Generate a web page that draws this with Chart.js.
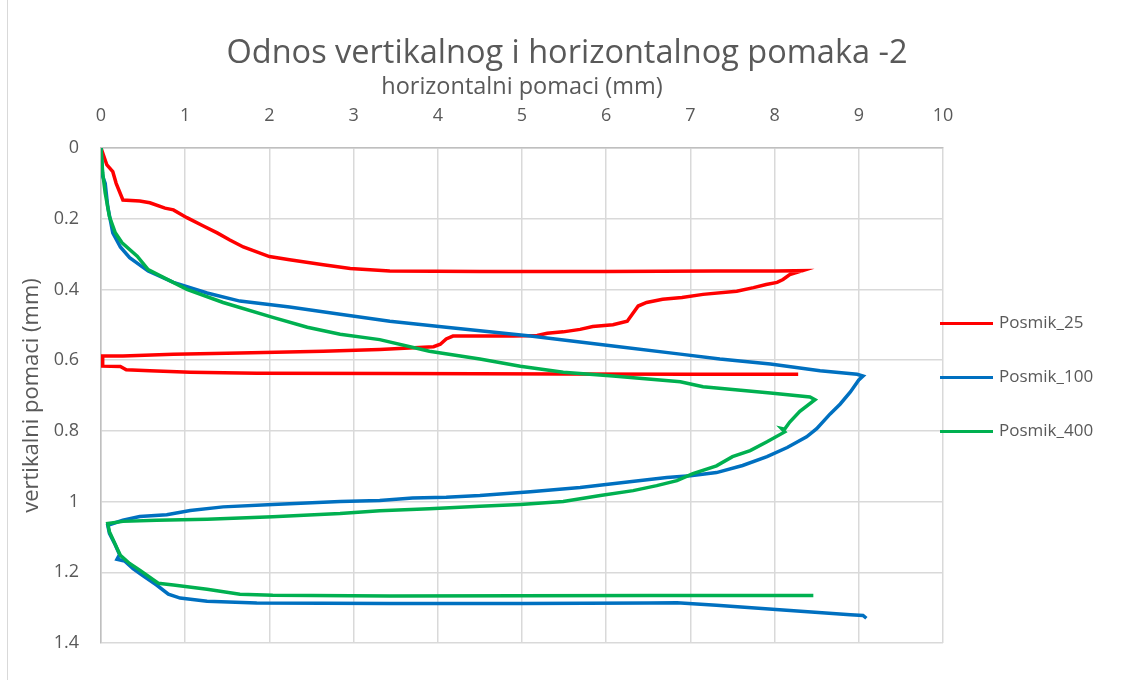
<!DOCTYPE html>
<html>
<head>
<meta charset="utf-8">
<script src="https://cdn.jsdelivr.net/npm/chart.js@4"></script>
<style>
  body { margin: 0; background: #fff; }
  #wrap { position: relative; width: 1124px; height: 680px; }
  #okvir { position: absolute; left: 7px; top: 0; width: 1px; height: 680px; background: #d9d9d9; pointer-events: none; }
  #naslov { position: absolute; left: 0; width: 1134px; top: 28px; line-height: 40px; text-align: center; font: 32.5px "Open Sans", sans-serif; color: #595959; }
  .leg { position: absolute; left: 940px; font: 17px "Open Sans", sans-serif; color: #595959; }
  .leg span { display: inline-block; width: 53px; height: 3px; vertical-align: middle; margin-right: 6px; }
</style>
</head>
<body>
<div id="wrap">
  <canvas id="grafik" width="1124" height="680"></canvas>
  <div id="okvir"></div>
  <div id="naslov">Odnos vertikalnog i horizontalnog pomaka -2</div>
  <div class="leg" style="top:310px"><span style="background:#ff0000"></span>Posmik_25</div>
  <div class="leg" style="top:364px"><span style="background:#0070c0"></span>Posmik_100</div>
  <div class="leg" style="top:418px"><span style="background:#00b050"></span>Posmik_400</div>
</div>
<script>
// horizontalni (x) i vertikalni (y) pomaci u mm
const posmik25X = [0, 0.07, 0.14, 0.18, 0.26, 0.46, 0.58, 0.76, 0.86, 1.02, 1.21, 1.38, 1.53, 1.69, 2.0, 2.24, 2.64, 2.96, 3.43, 4.5,
  6.0, 7.3, 8.0, 8.33, 8.18, 8.1, 8.03, 7.9, 7.75, 7.55, 7.15, 6.9, 6.67, 6.48, 6.38, 6.25, 6.08, 5.84, 5.69, 5.49,
  5.3, 5.18, 4.9, 4.18, 4.1, 4.03, 3.95, 3.31, 2.64, 1.65, 0.86, 0.26, 0.02, 0.02, 0.23, 0.3, 0.58, 1.06, 1.85, 3.43,
  5.5, 7.0, 8.28];
const posmik25Y = [0, 0.048, 0.067, 0.1, 0.147, 0.15, 0.155, 0.17, 0.175, 0.197, 0.22, 0.24, 0.26, 0.28, 0.307, 0.316, 0.33, 0.341, 0.348, 0.349,
  0.349, 0.348, 0.348, 0.347, 0.358, 0.372, 0.38, 0.386, 0.395, 0.405, 0.414, 0.423, 0.428, 0.437, 0.447, 0.49, 0.5, 0.505, 0.513, 0.52,
  0.524, 0.53, 0.532, 0.532, 0.54, 0.555, 0.562, 0.57, 0.575, 0.58, 0.583, 0.588, 0.588, 0.617, 0.618, 0.627, 0.63, 0.634, 0.637, 0.638,
  0.639, 0.64, 0.64];

const posmik100X = [0, 0.02, 0.05, 0.08, 0.14, 0.23, 0.34, 0.56, 0.86, 1.26, 1.65, 2.24, 2.84, 3.43, 4.1, 5.1, 6.08, 6.88, 7.35, 7.95,
  8.54, 8.98, 9.05, 9.0, 8.9, 8.78, 8.66, 8.5, 8.38, 8.15, 7.91, 7.62, 7.31, 7.0, 6.72, 6.28, 5.69, 5.1, 4.5, 4.1,
  3.7, 3.31, 2.84, 2.04, 1.45, 1.06, 0.78, 0.46, 0.26, 0.08, 0.1, 0.17, 0.22, 0.19, 0.28, 0.38, 0.5, 0.66, 0.8, 0.94,
  1.26, 1.85, 3.43, 5.0, 6.52, 6.84, 7.31, 8.1, 8.9, 9.05, 9.09];
const posmik100Y = [0, 0.08, 0.1, 0.166, 0.24, 0.28, 0.31, 0.348, 0.38, 0.41, 0.433, 0.45, 0.47, 0.49, 0.507, 0.532, 0.56, 0.583, 0.597, 0.611,
  0.63, 0.64, 0.645, 0.656, 0.69, 0.724, 0.752, 0.794, 0.817, 0.847, 0.873, 0.898, 0.918, 0.927, 0.932, 0.944, 0.96, 0.972, 0.983, 0.988,
  0.99, 0.997, 1.0, 1.008, 1.015, 1.025, 1.037, 1.042, 1.053, 1.067, 1.09, 1.123, 1.15, 1.163, 1.168, 1.19, 1.21, 1.236, 1.262, 1.273,
  1.282, 1.287, 1.288, 1.288, 1.287, 1.286, 1.293, 1.307, 1.32, 1.322, 1.33];

const posmik400X = [0, 0.02, 0.05, 0.1, 0.17, 0.25, 0.43, 0.56, 0.74, 1.02, 1.45, 2.04, 2.45, 2.84, 3.31, 3.9, 4.5, 4.98, 5.49, 6.08,
  6.88, 7.15, 7.95, 8.42, 8.48, 8.3, 8.18, 8.12, 8.08, 8.12, 7.91, 7.71, 7.5, 7.31, 7.03, 6.84, 6.6, 6.32, 5.93, 5.49,
  4.98, 4.5, 3.9, 3.31, 2.84, 2.04, 1.26, 0.66, 0.26, 0.08, 0.1, 0.19, 0.23, 0.34, 0.46, 0.68, 0.86, 1.26, 1.65, 2.04,
  3.43, 6.52, 8.46];
const posmik400Y = [0, 0.07, 0.127, 0.194, 0.24, 0.268, 0.306, 0.344, 0.366, 0.4, 0.437, 0.479, 0.507, 0.527, 0.542, 0.575, 0.597, 0.617, 0.634, 0.645,
  0.661, 0.675, 0.693, 0.704, 0.712, 0.745, 0.775, 0.795, 0.793, 0.803, 0.831, 0.856, 0.873, 0.899, 0.921, 0.941, 0.955, 0.969, 0.983, 1.0,
  1.008, 1.013, 1.02, 1.026, 1.034, 1.043, 1.05, 1.053, 1.056, 1.062, 1.085, 1.132, 1.152, 1.175, 1.194, 1.231, 1.236, 1.248, 1.262, 1.265,
  1.267, 1.266, 1.266];

const nazivi = ['Posmik_25', 'Posmik_100', 'Posmik_400'];
const boje = ['#ff0000', '#0070c0', '#00b050'];

function tocke(xs, ys) {
  return xs.map((x, i) => ({ x: x, y: ys[i] }));
}

const siva = '#595959';
const font = 'Open Sans';

const ctx = document.getElementById('grafik').getContext('2d');
new Chart(ctx, {
  type: 'scatter',
  data: {
    datasets: [
      { label: nazivi[0], data: tocke(posmik25X, posmik25Y), borderColor: boje[0], order: 3 },
      { label: nazivi[1], data: tocke(posmik100X, posmik100Y), borderColor: boje[1], order: 2 },
      { label: nazivi[2], data: tocke(posmik400X, posmik400Y), borderColor: boje[2], order: 1 }
    ].map(d => Object.assign(d, { showLine: true, pointRadius: 0, borderWidth: 3.5, tension: 0, backgroundColor: d.borderColor }))
  },
  options: {
    responsive: false,
    animation: false,
    layout: { padding: { left: 0, top: 66, right: 181, bottom: 37 } },
    plugins: {
      legend: { display: false },
      tooltip: { enabled: false }
    },
    scales: {
      x: {
        type: 'linear',
        position: 'top',
        min: 0, max: 10,
        ticks: { stepSize: 1, color: siva, font: { family: font, size: 18 }, padding: 21 },
        grid: { color: '#d9d9d9', lineWidth: 1.5, drawTicks: false },
        border: { color: '#bfbfbf', width: 1.5 },
        title: { display: true, text: 'horizontalni pomaci (mm)', color: siva, font: { family: font, size: 23.5 }, padding: { top: 7, bottom: 0 } },
        afterFit: s => { s.height = 82; }
      },
      y: {
        type: 'linear',
        reverse: true,
        min: 0, max: 1.4,
        ticks: { stepSize: 0.2, color: siva, font: { family: font, size: 18 }, padding: 22,
          callback: v => String(Math.round(v * 10) / 10) },
        grid: { color: '#d9d9d9', lineWidth: 1.5, drawTicks: false },
        border: { color: '#bfbfbf', width: 1.5 },
        title: { display: true, text: 'vertikalni pomaci (mm)', color: siva, font: { family: font, size: 22 }, padding: { top: 19, bottom: 0 } },
        afterFit: s => { s.width = 101; }
      }
    }
  }
});
</script>
</body>
</html>
